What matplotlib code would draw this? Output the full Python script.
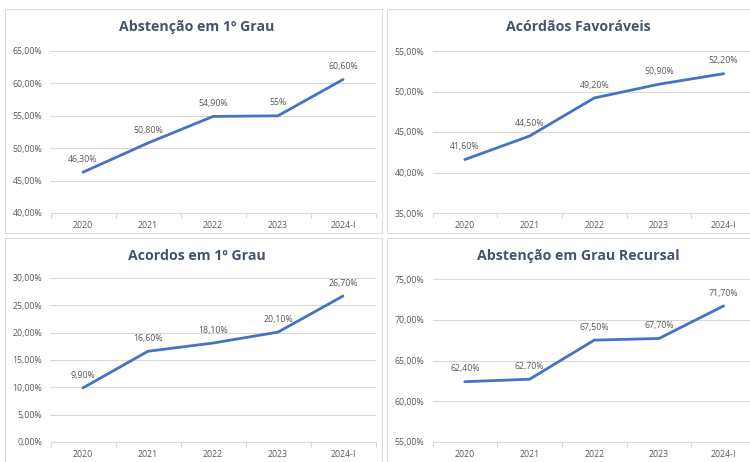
import matplotlib.pyplot as plt
from matplotlib.patches import Rectangle
import numpy as np

plt.rcParams['font.family'] = ['Open Sans', 'DejaVu Sans']

anos = ['2020', '2021', '2022', '2023', '2024-I']

abst_1grau = [46.3, 50.8, 54.9, 55.0, 60.6]
abst_1grau_lbl = ['46,30%', '50,80%', '54,90%', '55%', '60,60%']

acordaos = [41.6, 44.5, 49.2, 50.9, 52.2]
acordaos_lbl = ['41,60%', '44,50%', '49,20%', '50,90%', '52,20%']

acordos_1grau = [9.9, 16.6, 18.1, 20.1, 26.7]
acordos_1grau_lbl = ['9,90%', '16,60%', '18,10%', '20,10%', '26,70%']

abst_recursal = [62.4, 62.7, 67.5, 67.7, 71.7]
abst_recursal_lbl = ['62,40%', '62,70%', '67,50%', '67,70%', '71,70%']

W, H = 750, 462
fig = plt.figure(figsize=(7.5, 4.62), dpi=100)

# bordas dos paineis (cinza claro, como no Excel)
for (x0, y0, x1, y1) in [(5, 9, 382, 233), (387, 9, 752, 233),
                         (5, 238, 382, 470), (387, 238, 752, 470)]:
    fig.add_artist(Rectangle((x0 / W, 1 - y1 / H), (x1 - x0) / W, (y1 - y0) / H,
                             transform=fig.transFigure, fill=False,
                             edgecolor='#dcdcdc', linewidth=0.8))

# titulo, valores, rotulos, limites y, caixa do eixo (px), posicao do titulo (px)
paineis = [
    ('Abstenção em 1º Grau', abst_1grau, abst_1grau_lbl, (40, 65), (50.5, 375.5, 51, 213), (197, 27)),
    ('Acórdãos Favoráveis', acordaos, acordaos_lbl, (35, 55), (432.5, 756, 51, 213), (578, 27)),
    ('Acordos em 1º Grau', acordos_1grau, acordos_1grau_lbl, (0, 30), (50.5, 375.5, 278, 442), (197, 256)),
    ('Abstenção em Grau Recursal', abst_recursal, abst_recursal_lbl, (55, 75), (432.5, 756, 279, 442), (578, 256)),
]

for titulo, vals, lbls, (ymin, ymax), (x0, x1, yt, yb), (tx, ty) in paineis:
    ax = fig.add_axes([x0 / W, 1 - yb / H, (x1 - x0) / W, (yb - yt) / H])
    x = np.arange(len(anos))
    ax.plot(x, vals, color='#4472c4', linewidth=2.0, solid_capstyle='round')
    for xi, v, t in zip(x, vals, lbls):
        ax.annotate(t, (xi, v), xytext=(0, 6), textcoords='offset points',
                    ha='center', va='bottom', fontsize=6.3, color='#595959')
    ax.set_xlim(-0.5, len(anos) - 0.5)
    ax.set_ylim(ymin, ymax)
    ticks = np.arange(ymin, ymax + 0.1, 5)
    ax.set_yticks(ticks)
    ax.set_yticklabels([f'{t:.2f}'.replace('.', ',') + '%' for t in ticks])
    ax.set_xticks(x)
    ax.set_xticklabels(anos)
    ax.set_xticks(np.arange(-0.5, len(anos), 1), minor=True)
    ax.grid(axis='y', color='#d9d9d9', linewidth=0.8)
    ax.set_axisbelow(True)
    for s in ['top', 'right', 'left']:
        ax.spines[s].set_visible(False)
    ax.spines['bottom'].set_color('#d9d9d9')
    ax.spines['bottom'].set_linewidth(0.8)
    ax.tick_params(axis='y', length=0, labelsize=6.3, labelcolor='#595959', pad=6)
    ax.tick_params(axis='x', which='major', length=0, labelsize=6.3, labelcolor='#595959', pad=5.5)
    ax.tick_params(axis='x', which='minor', length=3.5, color='#d9d9d9', width=0.8)
    fig.text(tx / W, 1 - ty / H, titulo, ha='center', va='center',
             fontsize=10.2, fontweight='bold', color='#44546a')

fig.savefig('out.png', dpi=100)
